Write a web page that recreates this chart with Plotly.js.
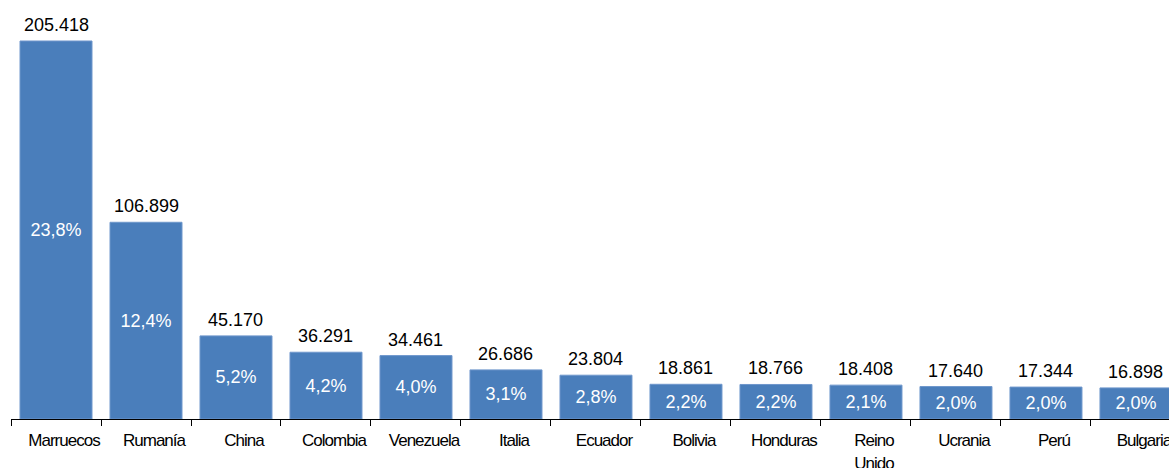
<!DOCTYPE html>
<html>
<head>
<meta charset="utf-8">
<script src="https://cdn.plot.ly/plotly-3.0.1.min.js"></script>
<style>
  html, body { margin: 0; padding: 0; background: #fff; }
  #chart { width: 1169px; height: 468px; }
  #chart .xtick text { letter-spacing: -1px; }
</style>
</head>
<body>
<div id="chart"></div>
<script>
const categories = ["Marruecos", "Rumanía", "China", "Colombia", "Venezuela", "Italia", "Ecuador", "Bolivia", "Honduras", "Reino<br>Unido", "Ucrania", "Perú", "Bulgaria"];
const values = [205418, 106899, 45170, 36291, 34461, 26686, 23804, 18861, 18766, 18408, 17640, 17344, 16898];
const valueLabels = ["205.418", "106.899", "45.170", "36.291", "34.461", "26.686", "23.804", "18.861", "18.766", "18.408", "17.640", "17.344", "16.898"];
const percentLabels = ["23,8%", "12,4%", "5,2%", "4,2%", "4,0%", "3,1%", "2,8%", "2,2%", "2,2%", "2,1%", "2,0%", "2,0%", "2,0%"];

const FONT = "Liberation Sans, Arial, sans-serif";

const barTrace = {
  type: "bar",
  x: categories,
  y: values,
  text: percentLabels,
  textposition: "inside",
  insidetextanchor: "middle",
  constraintext: "none",
  textangle: 0,
  textfont: { family: FONT, size: 18, color: "#ffffff" },
  marker: { color: "#4a7ebb", line: { color: "#6f97cc", width: 1 } },
  hoverinfo: "skip"
};

const annotations = categories.map((c, i) => ({
  x: c,
  y: values[i],
  xref: "x",
  yref: "y",
  text: valueLabels[i],
  showarrow: false,
  yanchor: "bottom",
  xanchor: "center",
  yshift: 4,
  font: { family: FONT, size: 18, color: "#000000" }
}));

const layout = {
  width: 1169,
  height: 468,
  margin: { l: 11, r: 0, t: 0, b: 49, pad: 0 },
  paper_bgcolor: "#ffffff",
  plot_bgcolor: "#ffffff",
  showlegend: false,
  bargap: 0.2,
  font: { family: FONT, color: "#000000" },
  xaxis: {
    type: "category",
    range: [-0.5, 12.367],
    showline: true,
    linecolor: "#000000",
    linewidth: 1,
    ticks: "outside",
    tickson: "boundaries",
    ticklen: 6,
    tickcolor: "#000000",
    tickwidth: 1,
    ticklabelshift: 8,
    ticklabelstandoff: 6,
    showgrid: false,
    zeroline: false,
    tickfont: { family: FONT, size: 17, color: "#000000" },
    fixedrange: true
  },
  yaxis: {
    range: [0, 227690],
    visible: false,
    showgrid: false,
    zeroline: false,
    fixedrange: true
  },
  annotations: annotations
};

Plotly.newPlot("chart", [barTrace], layout, { displayModeBar: false, staticPlot: true });
</script>
</body>
</html>
